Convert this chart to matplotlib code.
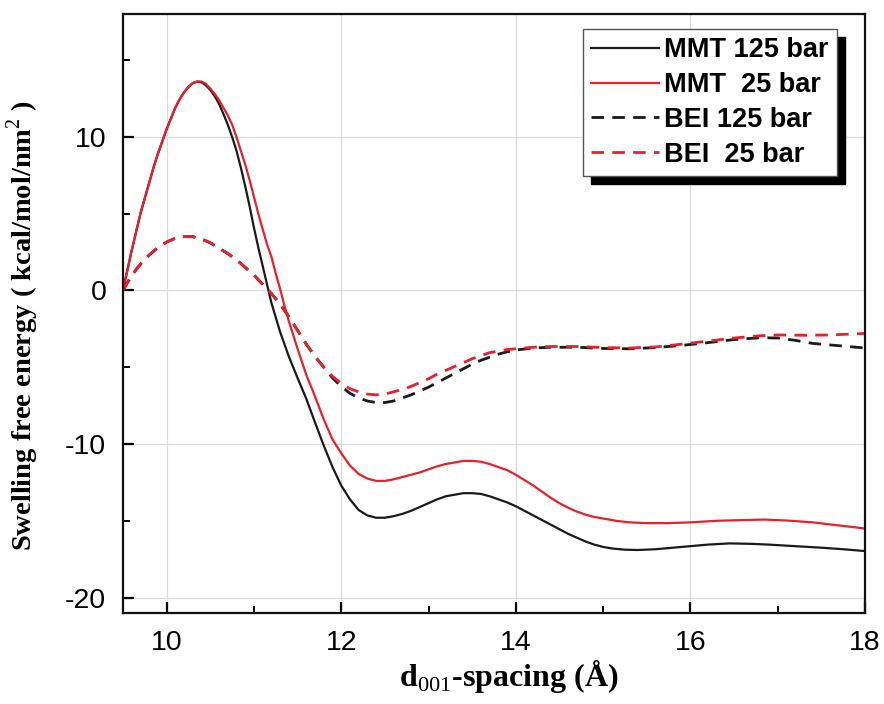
import matplotlib
matplotlib.use("Agg")
import matplotlib.pyplot as plt
from matplotlib.ticker import MultipleLocator

# ---- data ----
rise_x = [9.5, 9.55, 9.6, 9.65, 9.7, 9.75, 9.8, 9.85, 9.9, 9.95, 10.0, 10.05, 10.1, 10.15,
          10.2, 10.25, 10.3, 10.35]
rise_y = [0, 1.3, 2.6, 3.8, 5.0, 6.0, 7.0, 8.0, 8.9, 9.7, 10.5, 11.2, 11.9, 12.45,
          12.9, 13.25, 13.5, 13.6]

mmt125_x = rise_x + [10.4, 10.45, 10.5, 10.55, 10.6, 10.65, 10.7, 10.75, 10.8, 10.85, 10.9, 10.95,
                     11.0, 11.05, 11.1, 11.15, 11.2, 11.3, 11.4, 11.5, 11.6, 11.7, 11.8, 11.9,
                     12.0, 12.1, 12.2, 12.3, 12.4, 12.5, 12.6, 12.7, 12.8, 12.9, 13.0, 13.1,
                     13.2, 13.3, 13.4, 13.5, 13.6, 13.7, 13.8, 13.9, 14.0, 14.1, 14.2, 14.3,
                     14.4, 14.5, 14.6, 14.7, 14.8, 14.9, 15.0, 15.1, 15.25, 15.4, 15.6, 15.8,
                     16.0, 16.2, 16.45, 16.7, 16.9, 17.2, 17.5, 17.75, 18.0]
mmt125_y = rise_y + [13.55, 13.35, 13.05, 12.65, 12.15, 11.5, 10.8, 10.0, 9.1, 8.0, 6.8, 5.5,
                     4.1, 2.8, 1.6, 0.4, -0.8, -2.7, -4.3, -5.7, -7.05, -8.6, -10.1, -11.5,
                     -12.7, -13.6, -14.3, -14.65, -14.8, -14.8, -14.7, -14.55, -14.35, -14.1, -13.85, -13.6,
                     -13.4, -13.3, -13.2, -13.2, -13.25, -13.4, -13.6, -13.8, -14.05, -14.35, -14.65, -14.95,
                     -15.25, -15.55, -15.85, -16.1, -16.35, -16.55, -16.7, -16.8, -16.88, -16.9, -16.85, -16.75,
                     -16.65, -16.55, -16.47, -16.5, -16.55, -16.65, -16.75, -16.85, -16.97]

mmt25_x = rise_x + [10.4, 10.45, 10.5, 10.55, 10.6, 10.65, 10.7, 10.75, 10.8, 10.85, 10.9, 10.95,
                    11.0, 11.05, 11.1, 11.15, 11.2, 11.25, 11.3, 11.35, 11.4, 11.5, 11.6, 11.7,
                    11.8, 11.9, 12.0, 12.1, 12.2, 12.3, 12.4, 12.5, 12.6, 12.7, 12.8, 12.9,
                    13.0, 13.1, 13.2, 13.3, 13.4, 13.5, 13.6, 13.7, 13.8, 13.9, 14.0, 14.1,
                    14.2, 14.3, 14.4, 14.5, 14.6, 14.7, 14.8, 14.9, 15.0, 15.15, 15.3, 15.5,
                    15.75, 16.0, 16.3, 16.6, 16.85, 17.1, 17.4, 17.7, 18.0]
mmt25_y = rise_y + [13.6, 13.45, 13.15, 12.8, 12.4, 11.9, 11.4, 10.8, 10.0, 9.1, 8.2, 7.2,
                    6.1, 5.0, 4.0, 3.0, 2.2, 1.1, 0.1, -1.0, -2.0, -3.8, -5.5, -6.9,
                    -8.4, -9.7, -10.6, -11.4, -11.95, -12.25, -12.4, -12.4, -12.3, -12.15, -12.0, -11.85,
                    -11.65, -11.45, -11.3, -11.2, -11.1, -11.1, -11.15, -11.3, -11.5, -11.7, -12.0, -12.35,
                    -12.7, -13.1, -13.5, -13.85, -14.15, -14.4, -14.6, -14.75, -14.85, -15.0, -15.1, -15.15,
                    -15.15, -15.1, -15.0, -14.95, -14.92, -14.98, -15.1, -15.3, -15.5]

bei_head_x = [9.5, 9.55, 9.6, 9.65, 9.7, 9.8, 9.9, 10.0, 10.1, 10.2, 10.3, 10.4, 10.5, 10.6,
              10.7, 10.8, 10.9, 11.0, 11.1, 11.2, 11.3, 11.4, 11.5, 11.6, 11.7, 11.8]
bei_head_y = [0, 0.5, 0.95, 1.35, 1.7, 2.3, 2.8, 3.15, 3.4, 3.5, 3.5, 3.35, 3.1, 2.75,
              2.4, 2.0, 1.5, 1.0, 0.4, -0.2, -0.9, -1.7, -2.6, -3.5, -4.3, -5.0]

bei125_x = bei_head_x + [11.9, 12.0, 12.1, 12.2, 12.3, 12.4, 12.5, 12.6, 12.7, 12.8, 12.9, 13.0,
                         13.1, 13.2, 13.3, 13.4, 13.5, 13.6, 13.7, 13.8, 13.9, 14.0, 14.2, 14.4,
                         14.7, 15.0, 15.3, 15.6, 15.9, 16.2, 16.5, 16.8, 17.0, 17.2, 17.4, 17.7, 18.0]
bei125_y = bei_head_y + [-5.7, -6.25, -6.7, -7.0, -7.2, -7.3, -7.3, -7.2, -7.0, -6.8, -6.55, -6.3,
                         -6.0, -5.7, -5.4, -5.1, -4.8, -4.55, -4.35, -4.15, -4.0, -3.88, -3.75, -3.7,
                         -3.7, -3.78, -3.8, -3.72, -3.58, -3.4, -3.2, -3.08, -3.1, -3.25, -3.45, -3.6, -3.75]

bei25_x = bei_head_x + [11.9, 12.0, 12.1, 12.2, 12.3, 12.4, 12.5, 12.6, 12.7, 12.8, 12.9, 13.0,
                        13.1, 13.2, 13.3, 13.4, 13.5, 13.6, 13.7, 13.8, 13.9, 14.0, 14.2, 14.4,
                        14.7, 15.0, 15.3, 15.6, 15.9, 16.2, 16.5, 16.8, 17.0, 17.3, 17.6, 18.0]
bei25_y = bei_head_y + [-5.6, -6.05, -6.4, -6.6, -6.75, -6.8, -6.75, -6.6, -6.45, -6.25, -6.0, -5.75,
                        -5.45, -5.2, -4.95, -4.7, -4.45, -4.25, -4.05, -3.95, -3.85, -3.8, -3.7, -3.65,
                        -3.65, -3.72, -3.75, -3.68, -3.5, -3.3, -3.1, -2.95, -2.9, -2.92, -2.9, -2.8]

labels = ["MMT 125 bar", "MMT  25 bar", "BEI 125 bar", "BEI  25 bar"]
x_ticks = [10, 12, 14, 16, 18]
y_ticks = [-20, -10, 0, 10]

plt.rcParams['mathtext.fontset'] = 'custom'
plt.rcParams['mathtext.rm'] = 'Liberation Serif'
plt.rcParams['mathtext.bf'] = 'Liberation Serif:bold'
plt.rcParams['axes.unicode_minus'] = False

fig = plt.figure(figsize=(8.84, 7.04), dpi=100)
ax = fig.add_axes([0.1391, 0.1293, 0.8394, 0.8509])

red = '#e8202a'
dark = '#1a1a1a'
lw = 1.6
ax.plot(mmt125_x, mmt125_y, color=dark, lw=lw, label=labels[0])
ax.plot(mmt25_x, mmt25_y, color=red, lw=lw, label=labels[1])
ax.plot(bei125_x, bei125_y, color=dark, lw=lw + 0.4, ls=(0, (4.5, 3)), label=labels[2])
ax.plot(bei25_x, bei25_y, color=red, lw=lw + 0.4, ls=(0, (4.5, 3)), label=labels[3])

ax.set_xlim(9.5, 18)
ax.set_ylim(-21, 18)
ax.set_xticks(x_ticks)
ax.set_yticks(y_ticks)
ax.xaxis.set_minor_locator(MultipleLocator(1))
ax.yaxis.set_minor_locator(MultipleLocator(5))
ax.grid(True, which='major', color='#dcdcdc', lw=0.9)
ax.set_axisbelow(True)

for s in ax.spines.values():
    s.set_linewidth(1.6)
    s.set_color('#111111')

ax.tick_params(which='major', direction='in', length=8, width=1.6, pad=12,
               labelsize=20.5, top=False, right=False)
ax.tick_params(which='minor', direction='in', length=5, width=1.4, top=False, right=False)
for t in ax.get_xticklabels() + ax.get_yticklabels():
    t.set_family('Liberation Sans')

ax.set_xlabel(r"d$_{\mathrm{001}}$-spacing (Å)", family='Liberation Serif', fontweight='bold',
              fontsize=23)
ax.xaxis.set_label_coords(0.52, -0.075)
ax.set_ylabel("Swelling free energy ( kcal/mol/nm$^{\\mathrm{2}}$ )", family='Liberation Serif',
              fontweight='bold', fontsize=20.5)
ax.yaxis.set_label_coords(-0.11, 0.48)

leg = ax.legend(loc='upper right', bbox_to_anchor=((837 - 123) / 742, 1 - (29 - 14) / 599),
                borderaxespad=0, fancybox=False, frameon=True, edgecolor='#555555',
                framealpha=1, handlelength=2.5, handletextpad=0.2, labelspacing=0.33,
                borderpad=0.3, prop={'family': 'Liberation Sans', 'weight': 'bold', 'size': 19.5},
                shadow={'ox': 6, 'oy': -6, 'color': 'black', 'alpha': 1})
leg.get_frame().set_linewidth(1.0)

fig.savefig('out.png', dpi=100)
